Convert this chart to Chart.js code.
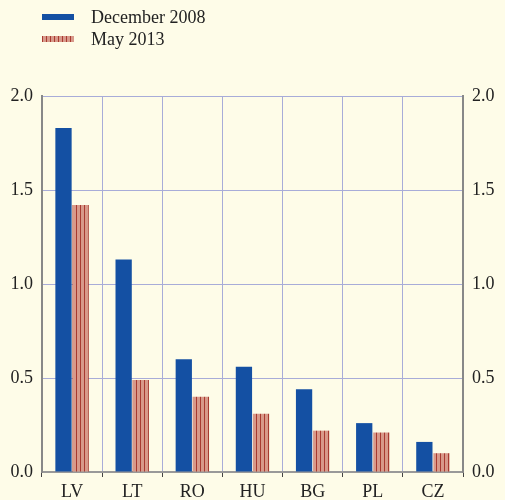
<!DOCTYPE html>
<html>
<head>
<meta charset="utf-8">
<script src="https://cdn.jsdelivr.net/npm/chart.js@4/dist/chart.umd.min.js"></script>
<style>
  html, body { margin: 0; padding: 0; background: #fefce8; }
  #wrap { position: relative; width: 505px; height: 500px; }
  #legend { position: absolute; left: 42px; top: 6px; font-family: "Liberation Serif", serif; font-size: 18px; color: #222; }
  .row { height: 22px; display: flex; align-items: center; }
  .sw { width: 32px; height: 6px; margin-right: 17px; }
</style>
</head>
<body>
<div id="wrap">
  <canvas id="myChart" width="505" height="500"></canvas>
  <div id="legend">
    <div class="row"><span class="sw" style="background:#1450a3"></span>December 2008</div>
    <div class="row"><span class="sw" style="background:repeating-linear-gradient(90deg,#a83a30 0 1px,#d8998a 1px 4px)"></span>May 2013</div>
  </div>
</div>
<script>
const countries = ["LV", "LT", "RO", "HU", "BG", "PL", "CZ"];
const dec2008 = [1.83, 1.13, 0.60, 0.56, 0.44, 0.26, 0.16];
const may2013 = [1.42, 0.49, 0.40, 0.31, 0.22, 0.21, 0.10];
const yTicks = [0, 0.5, 1.0, 1.5, 2.0];

const pc = document.createElement("canvas");
pc.width = 4; pc.height = 4;
const px = pc.getContext("2d");
px.fillStyle = "#d8998a";
px.fillRect(0, 0, 4, 4);
px.fillStyle = "#a83a30";
px.fillRect(0, 0, 1, 4);
const ctx = document.getElementById("myChart");
const stripes = ctx.getContext("2d").createPattern(pc, "repeat");

const font = { family: "Liberation Serif, serif", size: 18 };

new Chart(ctx, {
  type: "bar",
  data: {
    labels: countries,
    datasets: [
      { label: "December 2008", data: dec2008, backgroundColor: "#1450a3", barPercentage: 0.95, categoryPercentage: 0.57 },
      { label: "May 2013", data: may2013, backgroundColor: stripes, barPercentage: 0.95, categoryPercentage: 0.57 }
    ]
  },
  options: {
    responsive: false,
    animation: false,
    layout: { padding: { top: 96, left: 0, right: 0, bottom: 0 } },
    plugins: { legend: { display: false }, tooltip: { enabled: false } },
    scales: {
      x: {
        grid: { offset: true, color: "#a8acd8", tickColor: "#444", tickLength: 5, lineWidth: 1 },
        border: { color: "#999", width: 2 },
        ticks: { font: font, color: "#222", padding: 4 },
        afterFit: s => { s.height = 28; }
      },
      y: {
        min: 0, max: 2,
        afterBuildTicks: s => { s.ticks = yTicks.map(v => ({ value: v })); },
        grid: { color: "#a8acd8", drawTicks: false },
        border: { color: "#888", width: 2 },
        ticks: { font: font, color: "#222", padding: 9, callback: v => v.toFixed(1) },
        afterFit: s => { s.width = 42; }
      },
      y2: {
        position: "right",
        min: 0, max: 2,
        afterBuildTicks: s => { s.ticks = yTicks.map(v => ({ value: v })); },
        grid: { display: false, drawTicks: false },
        border: { color: "#888", width: 2 },
        ticks: { font: font, color: "#222", padding: 9, callback: v => v.toFixed(1) },
        afterFit: s => { s.width = 42; }
      }
    }
  }
});
</script>
</body>
</html>
